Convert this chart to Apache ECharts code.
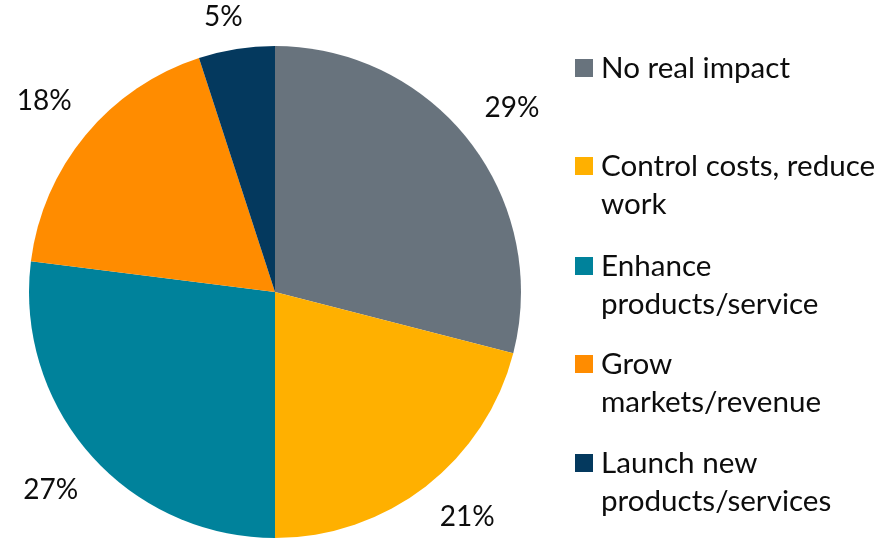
<!DOCTYPE html>
<html>
<head>
<meta charset="utf-8">
<script src="https://cdn.jsdelivr.net/npm/echarts@6/dist/echarts.min.js"></script>
<style>
  html, body { margin: 0; padding: 0; background: #ffffff; }
  #chart { width: 879px; height: 539px; }
</style>
</head>
<body>
<div id="chart"></div>
<script>
// Share of responses by primary impact
const categories = [
  'No real impact',
  'Control costs, reduce work',
  'Enhance products/service',
  'Grow markets/revenue',
  'Launch new products/services'
];
const legendLines = [
  ['No real impact'],
  ['Control costs, reduce', 'work'],
  ['Enhance', 'products/service'],
  ['Grow', 'markets/revenue'],
  ['Launch new', 'products/services']
];
const values = [29, 21, 27, 18, 5];
const colors = ['#68737D', '#FFB000', '#00829B', '#FF8C00', '#04395E'];

const FONT = 'Lato';
const W = 879, H = 539;
const CX = 275, CY = 292, R = 246;
const LINE_H = 38.5;
const legendCenters = [68, 166, 266, 364, 463];

const total = values.reduce((a, b) => a + b, 0);
const cum = [];
values.reduce((acc, v, i) => { cum[i] = acc; return acc + v; }, 0);

// One legend block per entry so the swatch lines up with the first text line.
const legends = categories.map((name, i) => {
  const lines = legendLines[i];
  const multi = lines.length > 1;
  // a blank leading line keeps the first real line level with the swatch
  const rows = multi ? [' '].concat(lines) : lines;
  return {
    orient: 'vertical',
    left: 575,
    top: multi ? legendCenters[i] - LINE_H * 1.5 : legendCenters[i] - LINE_H / 2,
    padding: 0,
    itemWidth: 18,
    itemHeight: 18,
    itemGap: 0,
    icon: 'rect',
    selectedMode: false,
    data: [name],
    formatter: () => rows.map(t => '{t|' + t + '}').join('\n'),
    textStyle: {
      fontFamily: FONT,
      fontSize: 29.6,
      lineHeight: LINE_H,
      color: '#0d0d0d',
      rich: {
        t: {
          fontFamily: FONT,
          fontSize: 29.6,
          lineHeight: LINE_H,
          color: '#0d0d0d',
          padding: [0, 0, 0, 3]
        }
      }
    },
    itemStyle: { borderWidth: 0 }
  };
});

const GAP = 25;
function ringPos(theta, hw, hh) {
  const s = Math.sin(theta), c = Math.cos(theta);
  const d = R + GAP + Math.abs(s) * hw + Math.abs(c) * hh;
  return { x: CX + s * d, y: CY - c * d, d: d };
}

const chart = echarts.init(document.getElementById('chart'), null, { renderer: 'canvas' });
chart.setOption({
  backgroundColor: '#ffffff',
  animation: false,
  color: colors,
  legend: legends,
  series: [{
    type: 'pie',
    center: [CX, CY],
    radius: [0, R],
    startAngle: 90,
    clockwise: true,
    avoidLabelOverlap: false,
    itemStyle: { borderWidth: 0 },
    emphasis: { disabled: true },
    label: {
      show: true,
      position: 'outside',
      formatter: p => p.value + '%',
      fontFamily: FONT,
      fontSize: 28,
      color: '#0d0d0d'
    },
    labelLine: { show: false },
    labelLayout: function (params) {
      const i = params.dataIndex;
      let theta = (cum[i] + values[i] / 2) / total * Math.PI * 2;
      const hw = params.labelRect.width / 2 + 6;
      const hh = params.labelRect.height * 0.15;
      const yMin = 17, yMax = H - 22;
      let p = ringPos(theta, hw, hh);
      // keep labels inside the chart: slide along the ring toward the side
      for (let k = 0; k < 6 && (p.y < yMin || p.y > yMax); k++) {
        const target = p.y < yMin ? yMin : yMax;
        const cosT = Math.max(-1, Math.min(1, (CY - target) / p.d));
        const base = Math.acos(cosT);
        theta = Math.sin(theta) >= 0 ? base : 2 * Math.PI - base;
        p = ringPos(theta, hw, hh);
      }
      return { x: p.x, y: p.y, align: 'center', verticalAlign: 'middle' };
    },
    data: categories.map((name, i) => ({ name: name, value: values[i] }))
  }]
});
</script>
</body>
</html>
